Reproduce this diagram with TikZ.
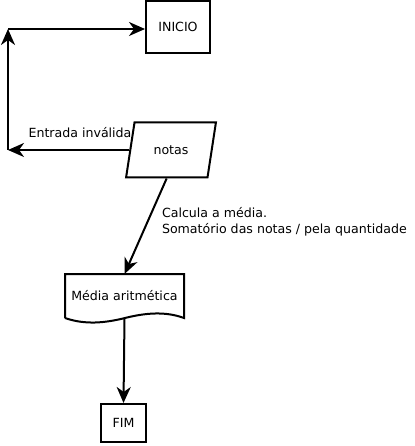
\documentclass[tikz,border=0pt]{standalone}
\usepackage{fontspec}
\setmainfont{DejaVu Sans}
\usetikzlibrary{arrows.meta,shapes.geometric}

\begin{document}
\begin{tikzpicture}[x=1pt,y=-1pt,line width=2pt,
    font=\fontsize{12.6}{16}\selectfont,
    seta/.style={-{Stealth[length=16pt,width=14pt,inset=5pt]}},
    caixa/.style={draw,rectangle,inner sep=0pt}]
  \useasboundingbox (0,0) rectangle (414,446);

  % INICIO
  \node[caixa,minimum width=64,minimum height=52] (inicio) at (178,27) {INICIO};

  % notas
  \node[draw,trapezium,trapezium left angle=73,trapezium right angle=107,
        trapezium stretches=true,minimum width=90,minimum height=55] (notas) at (171,150) {notas};
  \node (entrada) at (80,133) {Entrada inválida};

  % Media
  \node[minimum width=117,minimum height=42,inner sep=0pt] (media) at (124.5,296) {Média aritmética};
  \draw (media.south west) -- (media.north west) -- (media.north east) -- (media.south east)
        .. controls (165,311) and (145,313) .. (125,318)
        .. controls (105,323) and (85,325) .. (media.south west);
  \node[anchor=north west,align=left,inner sep=0pt] (calcula) at (161,206)
        {Calcula a média.\\Somatório das notas / pela quantidade};

  % FIM
  \node[caixa,minimum width=45,minimum height=38] (fim) at (123.5,423) {FIM};

  % volta
  \coordinate (volta) at (8,150);
  \coordinate (canto) at (8,29);
  \draw[seta] (notas.left side) -- (volta);
  \draw[seta] (volta) -- (canto);
  \draw[seta] (canto) -- (canto -| inicio.west);

  \draw[seta] (notas.bottom side) -- (media.north);
  \draw[seta] (media.south) -- (fim.north);
\end{tikzpicture}
\end{document}
